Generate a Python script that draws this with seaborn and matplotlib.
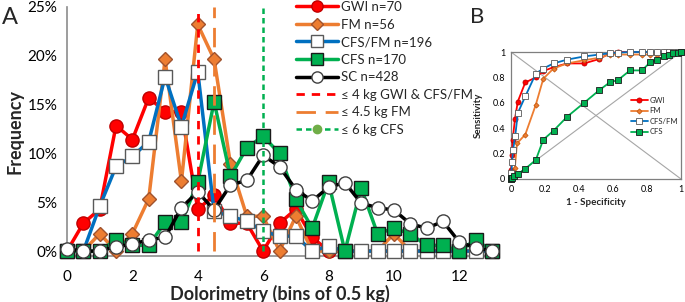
import numpy as np
import pandas as pd
import matplotlib
matplotlib.use("Agg")
import matplotlib.pyplot as plt
import seaborn as sns
from matplotlib.lines import Line2D
from matplotlib.ticker import FuncFormatter

# ---------------- data (panel A, % per 0.5 kg bin) ----------------
bins = [0, 0.5, 1, 1.5, 2, 2.5, 3, 3.5, 4, 4.5, 5, 5.5, 6, 6.5, 7, 7.5,
        8, 8.5, 9, 9.5, 10, 10.5, 11, 11.5, 12, 12.5, 13]
gwi = [0, 2.86, 4.29, 12.86, 11.43, 15.71, 14.29, 14.29, 4.29, 5.71, 2.86, 2.86,
       0, 2.86, 4.29, 1.43, 0, 0, 0, 0, 0, 0, 0, 0, 0, 0, 0]
fm = [0, 0, 1.79, 0, 1.79, 5.36, 19.64, 7.14, 23.21, 19.64, 8.93, 3.57,
      3.57, 0, 3.57, 0, 0, 0, 0, 0, 1.79, 0, 0, 0, 0, 0, 0]
cfsfm = [0, 0, 4.59, 8.67, 9.69, 11.22, 17.86, 12.76, 18.37, 4.08, 3.57, 3.06,
         2.04, 1.53, 1.53, 0, 0.51, 0, 0, 0, 0, 0, 0, 0, 0, 0, 0]
cfs = [0, 0, 0, 1.18, 0.59, 0.59, 2.94, 2.94, 7.06, 15.29, 7.65, 10.59,
       11.76, 10.0, 5.29, 2.35, 7.06, 0, 6.47, 1.76, 2.35, 1.76, 0.59, 0.59, 0, 1.18, 0]
sc = [0.23, 0, 0, 0.47, 0.70, 1.17, 1.40, 4.44, 6.07, 4.21, 6.78, 7.24,
      9.81, 8.64, 6.31, 5.14, 6.54, 7.01, 4.91, 4.44, 4.21, 2.80, 2.34, 3.04, 0.93, 0.35, 0]

labels_a = ["GWI n=70", "FM n=56", "CFS/FM n=196", "CFS n=170", "SC n=428"]
thresholds = [4, 4.5, 6]
threshold_labels = ["≤ 4 kg GWI & CFS/FM", "≤ 4.5 kg FM", "≤ 6 kg CFS"]

# ---------------- data (panel B, ROC) ----------------
gwi_fpr = [0, 0, 0.006, 0.01, 0.023, 0.04, 0.084, 0.146, 0.19, 0.25, 0.33, 0.43,
           0.52, 0.58, 0.63, 0.70, 0.77, 0.82, 0.86, 0.90, 0.93, 0.95, 0.98, 1.0]
gwi_tpr = [0, 0.07, 0.19, 0.31, 0.47, 0.61, 0.76, 0.80, 0.85, 0.88, 0.91, 0.91,
           0.945, 0.99, 1.0, 1, 1, 1, 1, 1, 1, 1, 1, 1]
fm_fpr = [0, 0.006, 0.016, 0.023, 0.035, 0.084, 0.146, 0.19, 0.25, 0.33, 0.43,
          0.52, 0.58, 0.63, 0.70, 0.77, 0.82, 0.86, 0.90, 0.93, 0.95, 0.98, 1.0]
fm_tpr = [0, 0, 0.02, 0.09, 0.28, 0.35, 0.585, 0.79, 0.87, 0.91, 0.935,
          0.955, 0.98, 0.98, 0.98, 0.98, 0.98, 0.98, 1.0, 1, 1, 1, 1]
cfsfm_fpr = [0, 0.002, 0.006, 0.012, 0.025, 0.04, 0.084, 0.146, 0.19, 0.25, 0.33,
             0.43, 0.52, 0.58, 0.63, 0.70, 0.77, 0.82, 0.86, 0.90, 0.93, 0.95, 0.98, 1.0]
cfsfm_tpr = [0, 0.05, 0.13, 0.23, 0.34, 0.52, 0.65, 0.83, 0.87, 0.91, 0.94,
             0.965, 0.98, 0.99, 0.995, 1, 1, 1, 1, 1, 1, 1, 1, 1]
cfs_fpr = [0, 0.002, 0.006, 0.016, 0.04, 0.084, 0.146, 0.19, 0.25, 0.33, 0.43,
           0.52, 0.58, 0.63, 0.70, 0.77, 0.82, 0.86, 0.90, 0.93, 0.95, 0.98, 1.0]
cfs_tpr = [0, 0.01, 0.01, 0.02, 0.04, 0.08, 0.15, 0.31, 0.38, 0.49, 0.60,
           0.70, 0.76, 0.78, 0.855, 0.855, 0.92, 0.94, 0.965, 0.98, 0.99, 0.99, 1.0]
labels_b = ["GWI", "FM", "CFS/FM", "CFS"]

# ---------------- style ----------------
sns.set_theme(style="white")
plt.rcParams["font.family"] = ["Lato", "DejaVu Sans"]

RED = "#FF0000"
ORANGE = "#ED7D31"
BLUE = "#0070C0"
GREEN = "#00B050"
BLACK = "#000000"
GREY = "#8C8C8C"

fig = plt.figure(figsize=(6.85, 3.02), dpi=100)

# ---------------- panel A ----------------
ax = fig.add_axes([67 / 685, 1 - 256 / 302, 425 / 685, 249 / 302])

specs = [
    (gwi, RED, "o", RED, "#C00000", 9.5),
    (fm, ORANGE, "D", ORANGE, "#A0522D", 7),
    (cfsfm, BLUE, "s", "white", "#595959", 10),
    (cfs, GREEN, "s", GREEN, "#1a1a1a", 9.5),
    (sc, BLACK, "o", "white", "#404040", 9.5),
]
handles = []
for i, (vals, col, mk, mfc, mec, ms) in enumerate(specs):
    df = pd.DataFrame({"x": bins, "y": vals})
    sns.lineplot(data=df, x="x", y="y", ax=ax, color=col, marker=mk,
                 markerfacecolor=mfc, markeredgecolor=mec, markersize=ms,
                 markeredgewidth=1, linewidth=2.5, estimator=None, sort=False,
                 clip_on=False, zorder=3 + i, legend=False)
    handles.append(Line2D([], [], color=col, marker=mk, markerfacecolor=mfc,
                          markeredgecolor=mec, markersize=ms * 0.85,
                          markeredgewidth=1, linewidth=2.5))

y0 = 0.5 / 25.5
ax.axvline(thresholds[0], ymin=y0, ymax=1, color=RED, lw=2, ls=(0, (3, 2.5)), zorder=10)
ax.axvline(thresholds[1], ymin=y0, ymax=1, color=ORANGE, lw=2, ls=(0, (7, 3.5)), zorder=10)
ax.axvline(thresholds[2], ymin=y0, ymax=1, color=GREEN, lw=1.8, ls=(0, (2.2, 1.6)), zorder=10)
handles.append(Line2D([], [], color=RED, lw=2, ls=(0, (3, 2.5))))
handles.append(Line2D([], [], color=ORANGE, lw=2, ls=(0, (7, 3.5))))
handles.append(Line2D([], [], color=GREEN, lw=1.8, ls=(0, (2.2, 1.6)), marker="o",
                      markerfacecolor="#70AD47", markeredgecolor="#70AD47", markersize=6))

ax.set_xlim(0, 13)
ax.set_ylim(-0.5, 25)
ax.set_yticks([0, 5, 10, 15, 20, 25])
ax.yaxis.set_major_formatter(FuncFormatter(lambda v, p: f"{int(v)}%"))
ax.set_xticks(list(range(0, 14)))
ax.set_xticklabels([str(v) if v % 2 == 0 else "" for v in range(0, 14)])
ax.tick_params(axis="both", labelsize=11, colors="black", length=4, width=1,
               direction="out", color=GREY, pad=3)
ax.tick_params(axis="x", pad=6)
for s in ["top", "right"]:
    ax.spines[s].set_visible(False)
for s in ["left", "bottom"]:
    ax.spines[s].set_color(GREY)
    ax.spines[s].set_linewidth(1.2)
ax.set_xlabel("Dolorimetry (bins of 0.5 kg)", fontsize=13, fontweight="bold", labelpad=1)
ax.set_ylabel("Frequency", fontsize=13, fontweight="bold", labelpad=3)

leg = ax.legend(handles, labels_a + threshold_labels, loc="upper left",
                bbox_to_anchor=(296 / 685, 1 - 1 / 302), bbox_transform=fig.transFigure,
                frameon=False, fontsize=9.5, handlelength=3.2, handletextpad=0.2,
                labelspacing=0.42, borderpad=0, borderaxespad=0)

fig.text(2 / 685, 1 - 17 / 302, "A", fontsize=17, va="center", ha="left")
fig.text(470 / 685, 1 - 17 / 302, "B", fontsize=16, va="center", ha="left")

# ---------------- panel B ----------------
axr = fig.add_axes([511 / 685, 1 - 179 / 302, 170 / 685, 127 / 302])
axr.plot([0, 1], [0, 1], color="#A6A6A6", lw=0.8, zorder=1)
axr.plot([0, 1], [1, 0], color="#A6A6A6", lw=0.8, zorder=1)

roc_specs = [
    (gwi_fpr, gwi_tpr, RED, "o", RED, "#C00000", 3.6),
    (fm_fpr, fm_tpr, ORANGE, "D", ORANGE, "#C55A11", 2.6),
    (cfsfm_fpr, cfsfm_tpr, BLUE, "s", "white", "#595959", 4.6),
    (cfs_fpr, cfs_tpr, GREEN, "s", GREEN, "#1a1a1a", 4.6),
]
rhandles = []
for i, (fx, fy, col, mk, mfc, mec, ms) in enumerate(roc_specs):
    df = pd.DataFrame({"x": fx, "y": fy})
    sns.lineplot(data=df, x="x", y="y", ax=axr, color=col, marker=mk,
                 markerfacecolor=mfc, markeredgecolor=mec, markersize=ms,
                 markeredgewidth=0.6, linewidth=1.3, estimator=None, sort=False,
                 clip_on=False, zorder=3 + i, legend=False)
    rhandles.append(Line2D([], [], color=col, marker=mk, markerfacecolor=mfc,
                           markeredgecolor=mec, markersize=ms, markeredgewidth=0.6,
                           linewidth=1.3))

axr.set_xlim(0, 1)
axr.set_ylim(0, 1)
ticks = [0, 0.2, 0.4, 0.6, 0.8, 1]
tl = ["0", "0.2", "0.4", "0.6", "0.8", "1"]
axr.set_xticks(ticks)
axr.set_xticklabels(tl)
axr.set_yticks(ticks)
axr.set_yticklabels(tl)
axr.tick_params(axis="both", labelsize=6.5, length=2, width=0.6, color=GREY,
                direction="out", pad=2, colors="black")
for s in axr.spines.values():
    s.set_color("#7F7F7F")
    s.set_linewidth(0.9)
axr.set_xlabel("1 - Specificity", fontsize=7, fontweight="bold", labelpad=3)
axr.set_ylabel("Sensitivity", fontsize=7, fontweight="bold", labelpad=7)
axr.legend(rhandles, labels_b, loc="upper left",
           bbox_to_anchor=(631 / 685, 1 - 97 / 302), bbox_transform=fig.transFigure,
           frameon=False, fontsize=5.5, handlelength=2.2, handletextpad=0.2,
           labelspacing=0.45, borderpad=0, borderaxespad=0)

fig.savefig("out.png", dpi=100)
